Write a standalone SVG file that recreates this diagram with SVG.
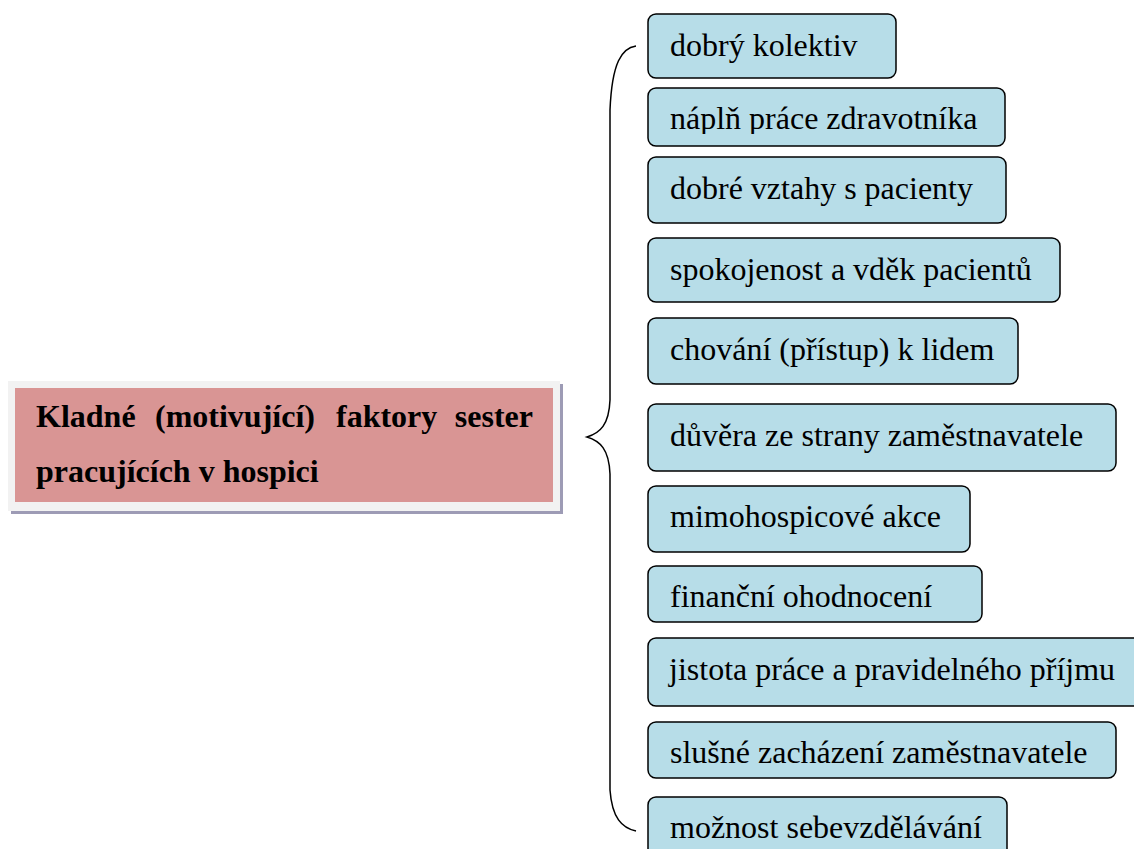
<svg xmlns="http://www.w3.org/2000/svg" width="1134" height="849" viewBox="0 0 1134 849">
<style>
.box{fill:#b7dde8;stroke:#000;stroke-width:1.5}
.t{font-family:"Liberation Serif","Times New Roman",serif;font-size:32px;fill:#000}
.b{font-family:"Liberation Serif","Times New Roman",serif;font-size:32px;font-weight:bold;fill:#000}
</style>
<defs>
<clipPath id="c2"><rect x="648" y="88" width="357" height="46"/></clipPath>
</defs>
<rect width="1134" height="849" fill="#fff"/>
<g id="main">
<rect x="11" y="384" width="552" height="130" fill="#9d9bb5"/>
<rect x="8" y="381" width="552" height="130" fill="#f2f2f2"/>
<rect x="15" y="388" width="538" height="114" fill="#d99594"/>
<text class="b" x="36" y="427">Kladné</text>
<text class="b" x="155" y="427">(motivující)</text>
<text class="b" x="336" y="427">faktory</text>
<text class="b" x="533" y="427" text-anchor="end">sester</text>
<text class="b" x="36" y="482">pracujících v hospici</text>
</g>
<g id="connectors">
<path d="M636,46 C622,48 612,62 610,110 L610,400 C609,425 600,433 587,437 C600,441 609,449 610,474 L610,790 C612,818 622,828 636,831" fill="none" stroke="#000" stroke-width="1.5"/>
</g>
<g id="n1"><rect class="box" x="648" y="14" width="248" height="64" rx="8"/><text class="t" x="670" y="56">dobrý kolektiv</text></g>
<g id="n2"><rect class="box" x="648" y="88" width="357" height="58" rx="8"/><text class="t" x="670" y="129" clip-path="url(#c2)">náplň práce zdravotníka</text></g>
<g id="n3"><rect class="box" x="648" y="157" width="358" height="66" rx="8"/><text class="t" x="670" y="199">dobré vztahy s pacienty</text></g>
<g id="n4"><rect class="box" x="648" y="238" width="412" height="64" rx="8"/><text class="t" x="670" y="280">spokojenost a vděk pacientů</text></g>
<g id="n5"><rect class="box" x="648" y="318" width="370" height="66" rx="8"/><text class="t" x="670" y="360">chování (přístup) k lidem</text></g>
<g id="n6"><rect class="box" x="648" y="404" width="468" height="67" rx="8"/><text class="t" x="670" y="446">důvěra ze strany zaměstnavatele</text></g>
<g id="n7"><rect class="box" x="648" y="486" width="322" height="66" rx="8"/><text class="t" x="670" y="527">mimohospicové akce</text></g>
<g id="n8"><rect class="box" x="648" y="566" width="334" height="56" rx="8"/><text class="t" x="670" y="607">finanční ohodnocení</text></g>
<g id="n9"><rect class="box" x="648" y="638" width="500" height="68" rx="8"/><text class="t" x="669" y="680">jistota práce a pravidelného příjmu</text></g>
<g id="n10"><rect class="box" x="648" y="722" width="468" height="56" rx="8"/><text class="t" x="670" y="763">slušné zacházení zaměstnavatele</text></g>
<g id="n11"><rect class="box" x="648" y="797" width="359" height="70" rx="8"/><text class="t" x="670" y="838">možnost sebevzdělávání</text></g>
</svg>
